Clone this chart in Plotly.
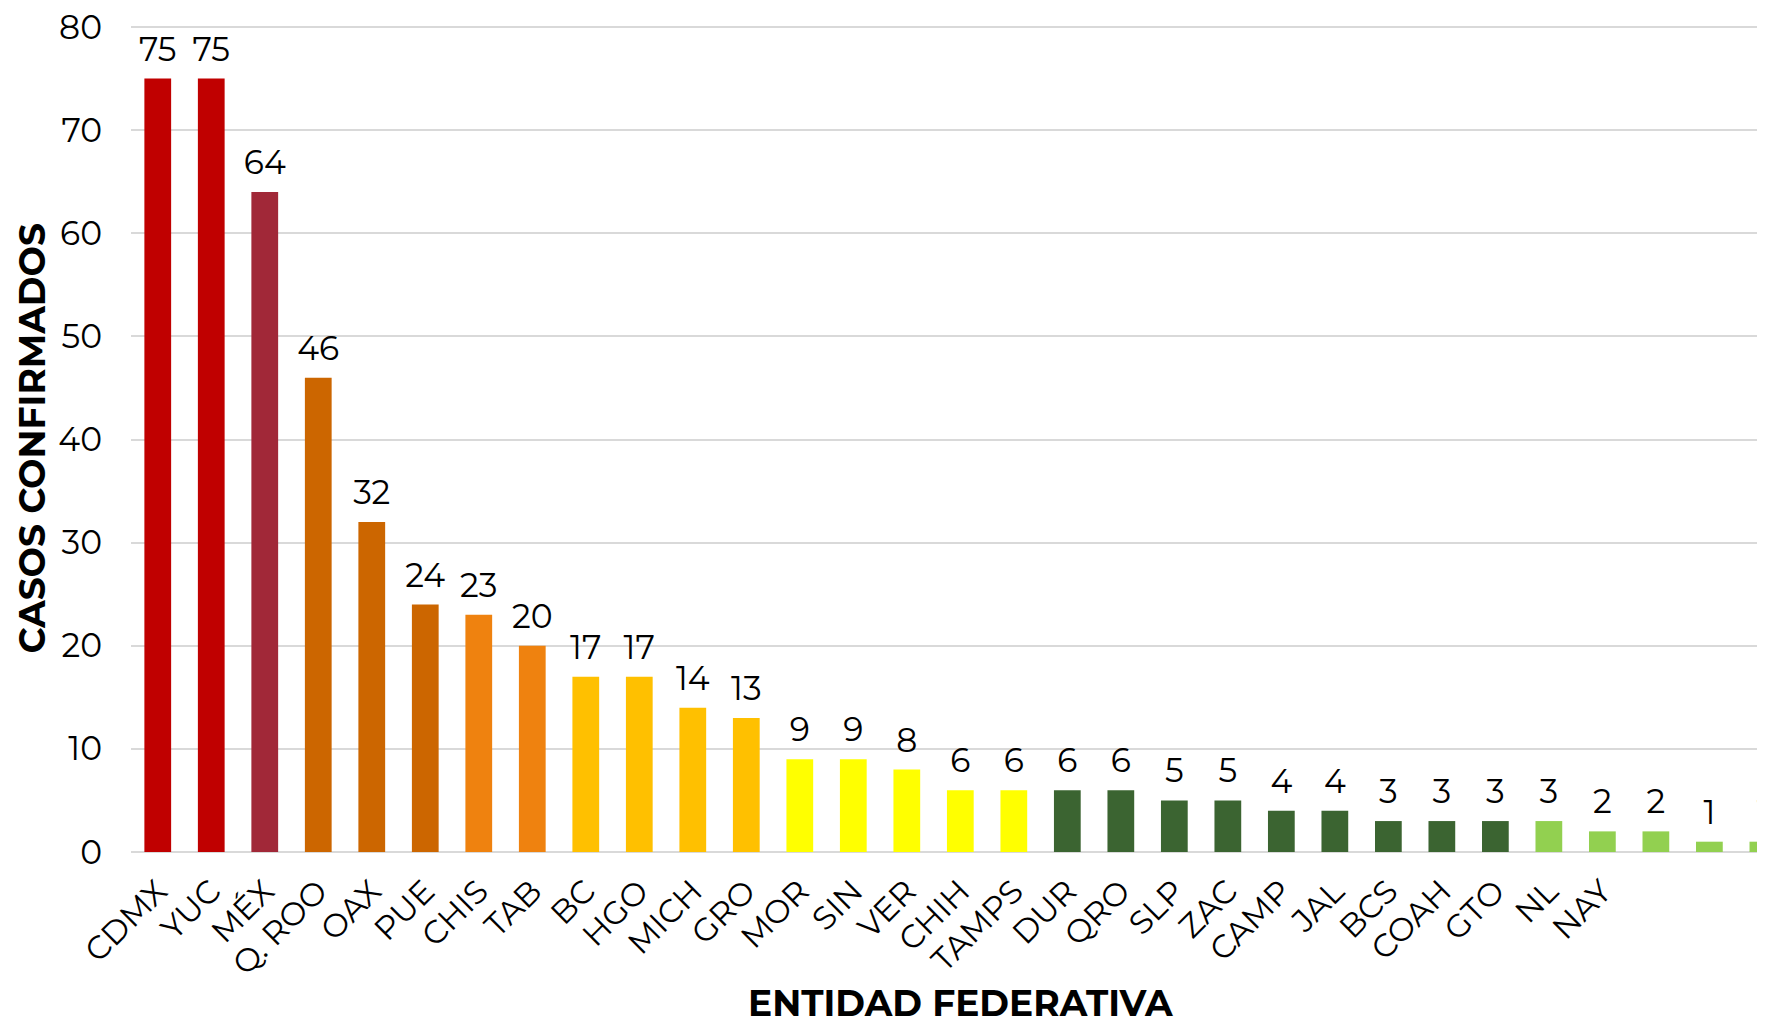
import plotly.graph_objects as go

ESTADOS = ["CDMX", "YUC", "MÉX", "Q. ROO", "OAX", "PUE", "CHIS", "TAB", "BC", "HGO",
           "MICH", "GRO", "MOR", "SIN", "VER", "CHIH", "TAMPS", "DUR", "QRO", "SLP",
           "ZAC", "CAMP", "JAL", "BCS", "COAH", "GTO", "NL", "NAY", "", "", ""]
CASOS = [75, 75, 64, 46, 32, 24, 23, 20, 17, 17, 14, 13, 9, 9, 8, 6, 6, 6, 6, 5,
         5, 4, 4, 3, 3, 3, 3, 2, 2, 1, 1]
COLORES = ["#C00000", "#C00000", "#A12838", "#CC6600", "#CC6600", "#CC6600",
           "#EF820F", "#EF820F", "#FFC000", "#FFC000", "#FFC000", "#FFC000",
           "#FFFF00", "#FFFF00", "#FFFF00", "#FFFF00", "#FFFF00",
           "#3B6431", "#3B6431", "#3B6431", "#3B6431", "#3B6431", "#3B6431",
           "#3B6431", "#3B6431", "#3B6431",
           "#92D050", "#92D050", "#92D050", "#92D050", "#92D050"]
Y_TICKS = [0, 10, 20, 30, 40, 50, 60, 70, 80]

FONT = "Montserrat, Open Sans, sans-serif"
pos = list(range(len(CASOS)))

fig = go.Figure()
fig.add_trace(go.Bar(
    x=pos, y=CASOS,
    marker=dict(color=COLORES, line=dict(width=0)),
    width=0.5,
))
# value labels, lifted a bit above the bars like the original
fig.add_trace(go.Scatter(
    x=pos, y=CASOS, mode="markers+text",
    marker=dict(size=14, opacity=0),
    text=CASOS, textposition="top center",
    textfont=dict(size=33, color="#000000", family=FONT),
    cliponaxis=True,
))

# page body adds 8px around the figure, so the figure is sized to fit the window
fig.update_layout(
    width=1749, height=1013,
    plot_bgcolor="white", paper_bgcolor="white",
    font=dict(family=FONT, size=32, color="#000000"),
    margin=dict(l=123, r=0, t=17, b=169, autoexpand=False),
    showlegend=False,
    xaxis=dict(
        range=[-0.5, 29.89], automargin=False,
        tickvals=pos, ticktext=ESTADOS,
        tickangle=-45, ticks="", showgrid=False,
        ticklabelstandoff=13,
        tickfont=dict(size=32, color="#000000"),
    ),
    yaxis=dict(
        range=[0, 80.2], tickvals=Y_TICKS, automargin=False,
        showgrid=True, gridcolor="#D9D9D9", gridwidth=1.5,
        zeroline=True, zerolinecolor="#D9D9D9", zerolinewidth=1.5,
        ticks="", ticklabelstandoff=28, ticklabeloverflow="allow",
        tickfont=dict(size=33, color="#000000"),
    ),
    annotations=[
        dict(text="<b>CASOS CONFIRMADOS</b>", xref="paper", yref="paper",
             x=-0.0615, y=0.5, xanchor="center", yanchor="middle",
             textangle=-90, showarrow=False, font=dict(size=36, color="#000000")),
        dict(text="<b>ENTIDAD FEDERATIVA</b>", xref="paper", yref="paper",
             x=0.51, y=-0.182, xanchor="center", yanchor="middle",
             showarrow=False, font=dict(size=36, color="#000000")),
    ],
)

fig.write_html("out.html")
